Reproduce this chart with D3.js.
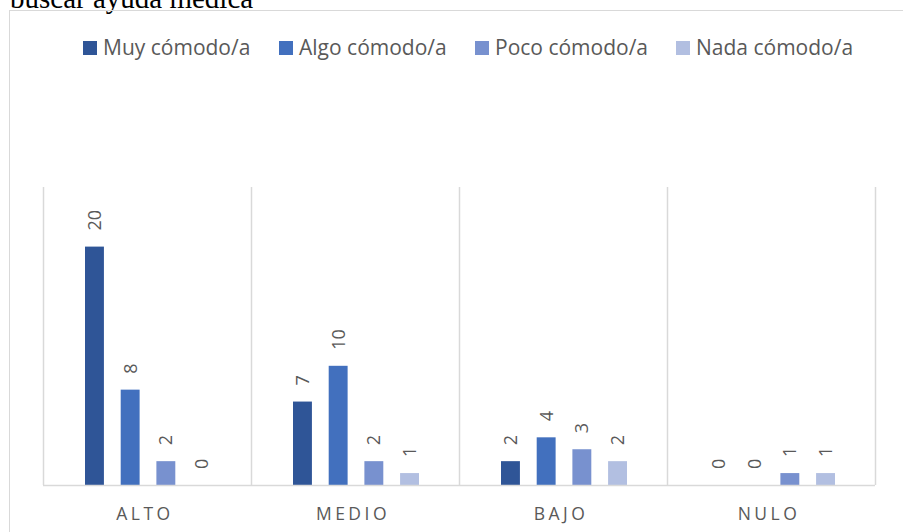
<!DOCTYPE html>
<html><head><meta charset="utf-8">
<script src="https://cdn.jsdelivr.net/npm/d3@7"></script>
<style>body{margin:0;background:#fff;overflow:hidden}</style>
</head><body>
<svg id="c" width="903" height="532"></svg>
<script>
const categories = ["ALTO", "MEDIO", "BAJO", "NULO"];
const seriesNames = ["Muy cómodo/a", "Algo cómodo/a", "Poco cómodo/a", "Nada cómodo/a"];
const muyComodo = [20, 7, 2, 0];
const algoComodo = [8, 10, 4, 0];
const pocoComodo = [2, 2, 3, 1];
const nadaComodo = [0, 1, 2, 1];
const colors = ["#2F5597", "#4270BE", "#7891CF", "#B2BFE1"];
const titleText = "buscar ayuda médica";

(function () {
const seriesValues = [muyComodo, algoComodo, pocoComodo, nadaComodo];
const svg = d3.select("#c");
const font = "'Open Sans', sans-serif";

// title (cut off at top, as in the reference)
svg.append("text").attr("x", 10).attr("y", 8)
  .attr("font-family", "'Liberation Serif', 'Times New Roman', serif")
  .attr("font-size", 29).attr("fill", "#000").text(titleText);

// chart border
svg.append("rect").attr("x", 9.5).attr("y", 10.5).attr("width", 1000).attr("height", 1000)
  .attr("fill", "none").attr("stroke", "#d9d9d9").attr("stroke-width", 1);

const pLeft = 43, pRight = 875, pTop = 187, pBottom = 485;
const x0 = d3.scaleBand().domain(categories).range([pLeft, pRight]).padding(0);
const x1 = d3.scaleBand().domain(seriesNames).range([42, x0.bandwidth() - 40]).paddingInner(0.47).paddingOuter(0);
const y = d3.scaleLinear().domain([0, 25]).range([pBottom, pTop]);

// vertical separators
const seps = categories.map((c) => x0(c)).concat([pRight]);
svg.append("g").selectAll("line").data(seps).join("line")
  .attr("x1", d => Math.round(d) + 0.5).attr("x2", d => Math.round(d) + 0.5)
  .attr("y1", pTop).attr("y2", pBottom)
  .attr("stroke", "#d9d9d9").attr("stroke-width", 1.5);

// bars
const groups = svg.append("g").selectAll("g").data(categories).join("g")
  .attr("transform", c => `translate(${x0(c)},0)`);
groups.each(function (c, ci) {
  const g = d3.select(this);
  seriesNames.forEach((s, si) => {
    const v = seriesValues[si][ci];
    const bx = x1(s);
    g.append("rect").attr("x", bx).attr("width", x1.bandwidth())
      .attr("y", y(v)).attr("height", pBottom - y(v)).attr("fill", colors[si]);
    const cx = bx + x1.bandwidth() / 2;
    const ty = y(v) - 16;
    g.append("text").attr("transform", `translate(${cx},${ty}) rotate(-90)`)
      .attr("dy", "0.36em").attr("text-anchor", "start")
      .attr("font-family", font).attr("font-size", 18).attr("fill", "#595959")
      .text(v);
  });
});

// baseline
svg.append("line").attr("x1", pLeft).attr("x2", pRight).attr("y1", pBottom + 0.5).attr("y2", pBottom + 0.5)
  .attr("stroke", "#d9d9d9").attr("stroke-width", 1.5);

// category labels
svg.append("g").selectAll("text").data(categories).join("text")
  .attr("x", c => x0(c) + x0.bandwidth() / 2 - 2).attr("y", 520)
  .attr("text-anchor", "middle").attr("font-family", font).attr("font-size", 17.5)
  .attr("letter-spacing", "3.5px").attr("fill", "#595959").text(c => c);

// legend
const legendX = [83, 279, 475, 676];
const leg = svg.append("g").selectAll("g").data(seriesNames).join("g")
  .attr("transform", (d, i) => `translate(${legendX[i]},41)`);
leg.append("rect").attr("width", 14).attr("height", 14).attr("fill", (d, i) => colors[i]);
leg.append("text").attr("x", 20).attr("y", 14).attr("font-family", font).attr("font-size", 21)
  .attr("fill", "#595959").text(d => d);
})();
</script>
</body></html>
